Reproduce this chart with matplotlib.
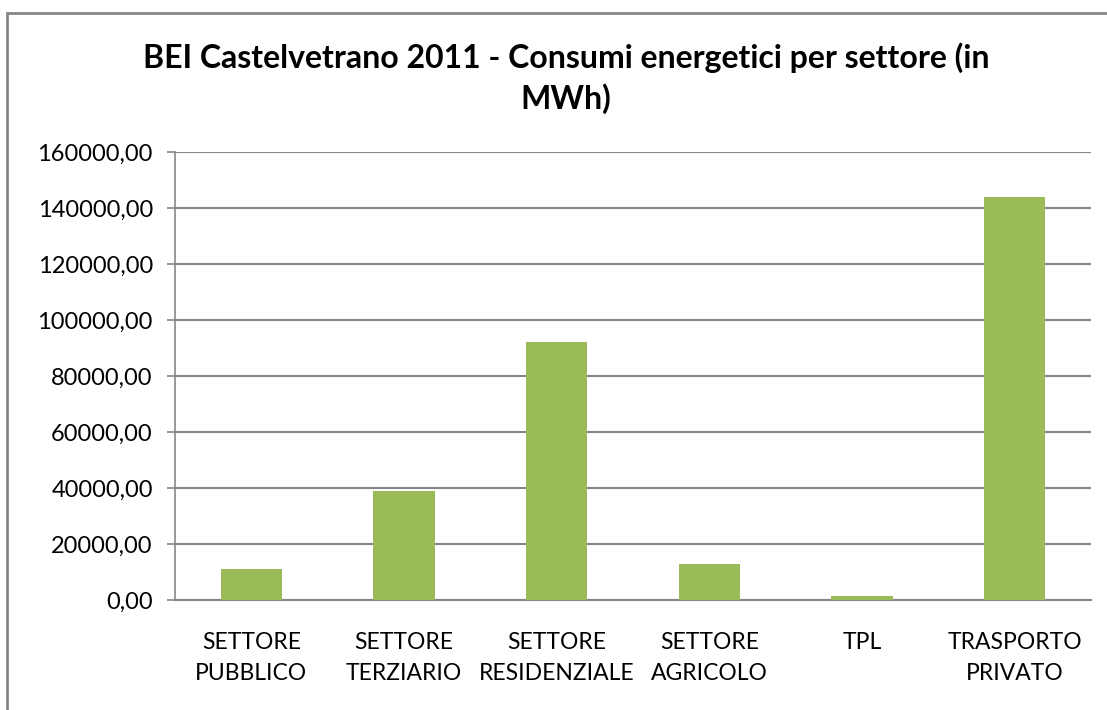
from matplotlib import pyplot as plt
from matplotlib.patches import Rectangle
from matplotlib.ticker import FuncFormatter
import numpy as np

categories = ['SETTORE\nPUBBLICO', 'SETTORE\nTERZIARIO', 'SETTORE\nRESIDENZIALE',
              'SETTORE\nAGRICOLO', 'TPL', 'TRASPORTO\nPRIVATO']
consumi = [11050, 38900, 92100, 12900, 1400, 143900]
y_ticks = [0, 20000, 40000, 60000, 80000, 100000, 120000, 140000, 160000]

title = 'BEI Castelvetrano 2011 - Consumi energetici per settore (in\nMWh)'

plt.rcParams['font.family'] = ['Lato', 'DejaVu Sans']

fig = plt.figure(figsize=(11.07, 7.1), dpi=100)
ax = fig.add_axes([175/1107, 1-600/710, 916/1107, 448/710])

x = np.arange(len(categories))
ax.bar(x, consumi, width=0.4, color='#9BBB59', zorder=3)

ax.set_xlim(-0.5, len(categories)-0.5)
ax.set_ylim(0, 160000)
ax.set_yticks(y_ticks)
ax.yaxis.set_major_formatter(FuncFormatter(lambda v, p: f'{v:.2f}'.replace('.', ',')))
ax.set_xticks(x)
ax.set_xticklabels(categories, fontsize=16.5, linespacing=1.6)

ax.grid(axis='y', color='#868686', linewidth=1.5, zorder=0)
for s in ['top', 'right']:
    ax.spines[s].set_visible(False)
ax.spines['left'].set_color('#868686')
ax.spines['bottom'].set_color('#868686')
ax.spines['left'].set_linewidth(1.2)
ax.spines['bottom'].set_linewidth(1.5)
ax.tick_params(axis='y', length=6, width=1.2, color='#868686', labelsize=17, pad=10)
ax.tick_params(axis='x', length=0, pad=23)

fig.text(566/1107, 1-78/710, title, ha='center', va='center', fontsize=23,
         fontweight='bold', linespacing=1.4)

fig.add_artist(Rectangle((7/1107, -0.1), 2, 1-13/710+0.1, transform=fig.transFigure,
                         fill=False, edgecolor='#868686', linewidth=2))

fig.savefig('out.png', dpi=100)
